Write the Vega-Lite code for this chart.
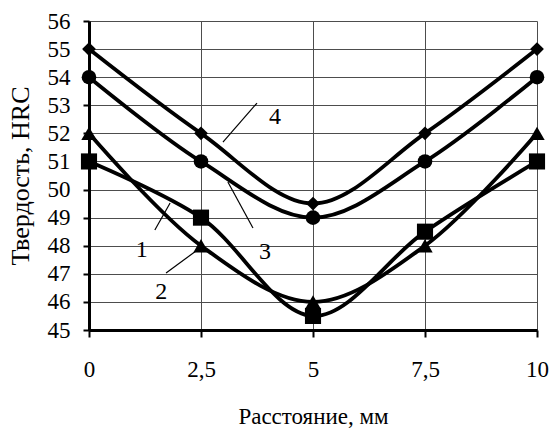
{
  "$schema": "https://vega.github.io/schema/vega-lite/v6.json",
  "width": 448,
  "height": 309,
  "autosize": {"type": "none"},
  "padding": {"left": 89, "top": 21, "right": 15, "bottom": 103},
  "background": "white",
  "config": {
    "view": {"stroke": null},
    "font": "Liberation Serif",
    "axis": {
      "labelFont": "Liberation Serif",
      "titleFont": "Liberation Serif",
      "labelFontSize": 23,
      "titleFontSize": 23,
      "titleFontWeight": "normal",
      "labelColor": "black",
      "titleColor": "black",
      "domainColor": "black",
      "domainWidth": 3,
      "tickColor": "black",
      "tickWidth": 2,
      "gridColor": "#4d4d4d",
      "gridWidth": 1,
      "gridOpacity": 1,
      "labelOverlap": false,
      "labelFlush": false
    }
  },
  "datasets": {
    "pts": [
      {"x": 0, "y": 51, "s": "1"}, {"x": 2.5, "y": 49, "s": "1"}, {"x": 5, "y": 45.5, "s": "1"}, {"x": 7.5, "y": 48.5, "s": "1"}, {"x": 10, "y": 51, "s": "1"},
      {"x": 0, "y": 52, "s": "2"}, {"x": 2.5, "y": 48, "s": "2"}, {"x": 5, "y": 46, "s": "2"}, {"x": 7.5, "y": 48, "s": "2"}, {"x": 10, "y": 52, "s": "2"},
      {"x": 0, "y": 54, "s": "3"}, {"x": 2.5, "y": 51, "s": "3"}, {"x": 5, "y": 49, "s": "3"}, {"x": 7.5, "y": 51, "s": "3"}, {"x": 10, "y": 54, "s": "3"},
      {"x": 0, "y": 55, "s": "4"}, {"x": 2.5, "y": 52, "s": "4"}, {"x": 5, "y": 49.5, "s": "4"}, {"x": 7.5, "y": 52, "s": "4"}, {"x": 10, "y": 55, "s": "4"}
    ],
    "leaders": [
      {"x": 3.75, "y": 53.08, "x2": 2.99, "y2": 51.69},
      {"x": 3.10, "y": 50.27, "x2": 3.66, "y2": 48.63},
      {"x": 1.81, "y": 49.52, "x2": 1.47, "y2": 48.56},
      {"x": 1.72, "y": 47.03, "x2": 2.48, "y2": 47.92}
    ],
    "labels": [
      {"x": 4.15, "y": 52.6, "t": "4"},
      {"x": 3.93, "y": 47.78, "t": "3"},
      {"x": 1.18, "y": 47.85, "t": "1"},
      {"x": 1.61, "y": 46.35, "t": "2"}
    ]
  },
  "encoding": {
    "x": {
      "field": "x", "type": "quantitative",
      "scale": {"domain": [0, 10], "nice": false},
      "axis": {
        "values": [0, 2.5, 5, 7.5, 10],
        "labelExpr": "replace(format(datum.value, '~g'), '.', ',')",
        "title": "Расстояние, мм",
        "tickSize": 7,
        "labelPadding": 21,
        "titlePadding": 24,
        "labelOverlap": false,
        "grid": true
      }
    },
    "y": {
      "field": "y", "type": "quantitative",
      "scale": {"domain": [45, 56], "nice": false, "zero": false},
      "axis": {
        "values": [45, 46, 47, 48, 49, 50, 51, 52, 53, 54, 55, 56],
        "labelExpr": "format(datum.value, 'd')",
        "title": "Твердость, HRC",
        "titleFontSize": 26,
        "tickSize": 6,
        "labelPadding": 13,
        "titlePadding": 14,
        "labelOverlap": false,
        "labelSeparation": 0,
        "grid": true
      }
    }
  },
  "layer": [
    {
      "data": {"name": "pts"},
      "mark": {"type": "line", "interpolate": "catmull-rom", "color": "black", "strokeWidth": 3.8},
      "encoding": {
        "detail": {"field": "s"}
      }
    },
    {
      "data": {"name": "pts"},
      "mark": {"type": "point", "filled": true, "color": "black", "opacity": 1},
      "encoding": {
        "shape": {
          "field": "s", "type": "nominal", "legend": null,
          "scale": {"domain": ["1", "2", "3", "4"], "range": ["square", "triangle-up", "circle", "diamond"]}
        },
        "size": {
          "field": "s", "type": "nominal", "legend": null,
          "scale": {"domain": ["1", "2", "3", "4"], "range": [260, 190, 260, 200]}
        }
      }
    },
    {
      "data": {"name": "leaders"},
      "mark": {"type": "rule", "color": "black", "strokeWidth": 1.2},
      "encoding": {
        "x2": {"field": "x2"},
        "y2": {"field": "y2"}
      }
    },
    {
      "data": {"name": "labels"},
      "mark": {"type": "text", "font": "Liberation Serif", "fontSize": 24, "color": "black", "align": "center", "baseline": "middle"},
      "encoding": {
        "text": {"field": "t"}
      }
    }
  ]
}
